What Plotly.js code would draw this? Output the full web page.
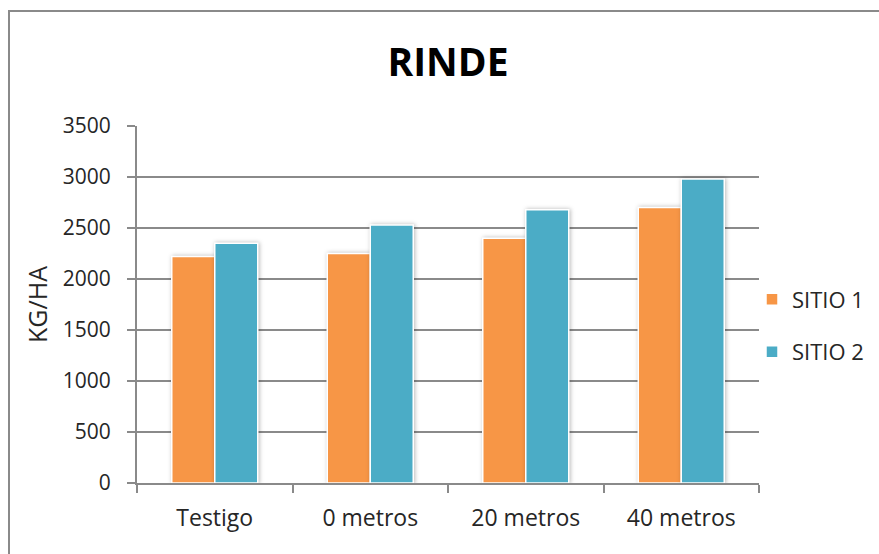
<!DOCTYPE html>
<html>
<head>
<meta charset="utf-8">
<script src="https://cdn.plot.ly/plotly-3.0.1.min.js"></script>
<style>
  html, body { margin: 0; padding: 0; background: #fff; }
  #wrap { position: relative; width: 879px; height: 554px; overflow: hidden; }
  #chart { position: absolute; left: 0; top: 0; width: 879px; height: 554px; }
  #frame { position: absolute; left: 8px; top: 10px; right: -4px; bottom: -4px;
           border-left: 2px solid #8a8a8a; border-top: 2px solid #8a8a8a; pointer-events: none; }
  /* soft shadow around the bars */
  #chart .trace.bars .point path { filter: drop-shadow(1px 0px 2px rgba(0,0,0,0.28)); }
</style>
</head>
<body>
<div id="wrap">
  <div id="chart"></div>
  <div id="frame"></div>
</div>
<script>
// Rendimiento por tratamiento (kg/ha)
const categorias = ["Testigo", "0 metros", "20 metros", "40 metros"];
const sitio1 = [2220, 2250, 2400, 2700];
const sitio2 = [2350, 2530, 2680, 2980];
const yTicks = [0, 500, 1000, 1500, 2000, 2500, 3000, 3500];

const FONT = "Open Sans, Noto Sans, sans-serif";
const GRID = "#8a8a8a";

const traces = [
  {
    type: "bar", name: "SITIO 1", x: categorias, y: sitio1,
    legendgroup: "a",
    marker: { color: "#F79646", line: { color: "#ffffff", width: 1.5 } },
    hoverinfo: "skip"
  },
  {
    type: "bar", name: "SITIO 2", x: categorias, y: sitio2,
    legendgroup: "b",
    marker: { color: "#4BACC6", line: { color: "#ffffff", width: 1.5 } },
    hoverinfo: "skip"
  }
];

const layout = {
  width: 879, height: 554,
  margin: { l: 137, r: 120, t: 126, b: 71, pad: 0, autoexpand: false },
  paper_bgcolor: "#ffffff", plot_bgcolor: "#ffffff",
  font: { family: FONT, color: "#262626", size: 21 },
  title: {
    text: "<b>RINDE</b>",
    font: { family: FONT, size: 39, color: "#000000" },
    xref: "paper", x: 0.5, xanchor: "center",
    yref: "container", y: 1 - 62 / 554, yanchor: "middle",
    automargin: false
  },
  barmode: "group",
  bargap: 0.447,
  bargroupgap: 0,
  showlegend: true,
  legend: {
    xref: "container", x: 752 / 879, xanchor: "left",
    yref: "paper", y: 0.44, yanchor: "middle",
    font: { family: FONT, size: 22, color: "#262626" },
    tracegroupgap: 21, traceorder: "grouped",
    borderwidth: 0,
    bgcolor: "rgba(0,0,0,0)"
  },
  xaxis: {
    type: "category",
    showgrid: false,
    showline: true, linecolor: GRID, linewidth: 2,
    ticks: "outside", tickson: "boundaries", ticklen: 8, tickwidth: 2, tickcolor: GRID,
    ticklabelstandoff: 13,
    tickfont: { family: FONT, size: 23, color: "#262626" },
    automargin: false,
    fixedrange: true
  },
  yaxis: {
    range: [0, 3500],
    tickvals: yTicks,
    ticktext: yTicks.map(String),
    showgrid: true, gridcolor: GRID, gridwidth: 2,
    zeroline: false,
    showline: true, linecolor: GRID, linewidth: 2,
    ticks: "outside", ticklen: 8, tickwidth: 2, tickcolor: GRID,
    ticklabelstandoff: 12,
    tickfont: { family: FONT, size: 21, color: "#262626" },
    title: { text: "KG/HA", font: { family: FONT, size: 25, color: "#262626" }, standoff: 8 },
    automargin: false,
    fixedrange: true
  }
};

Plotly.newPlot("chart", traces, layout, { displayModeBar: false, staticPlot: true });
</script>
</body>
</html>
